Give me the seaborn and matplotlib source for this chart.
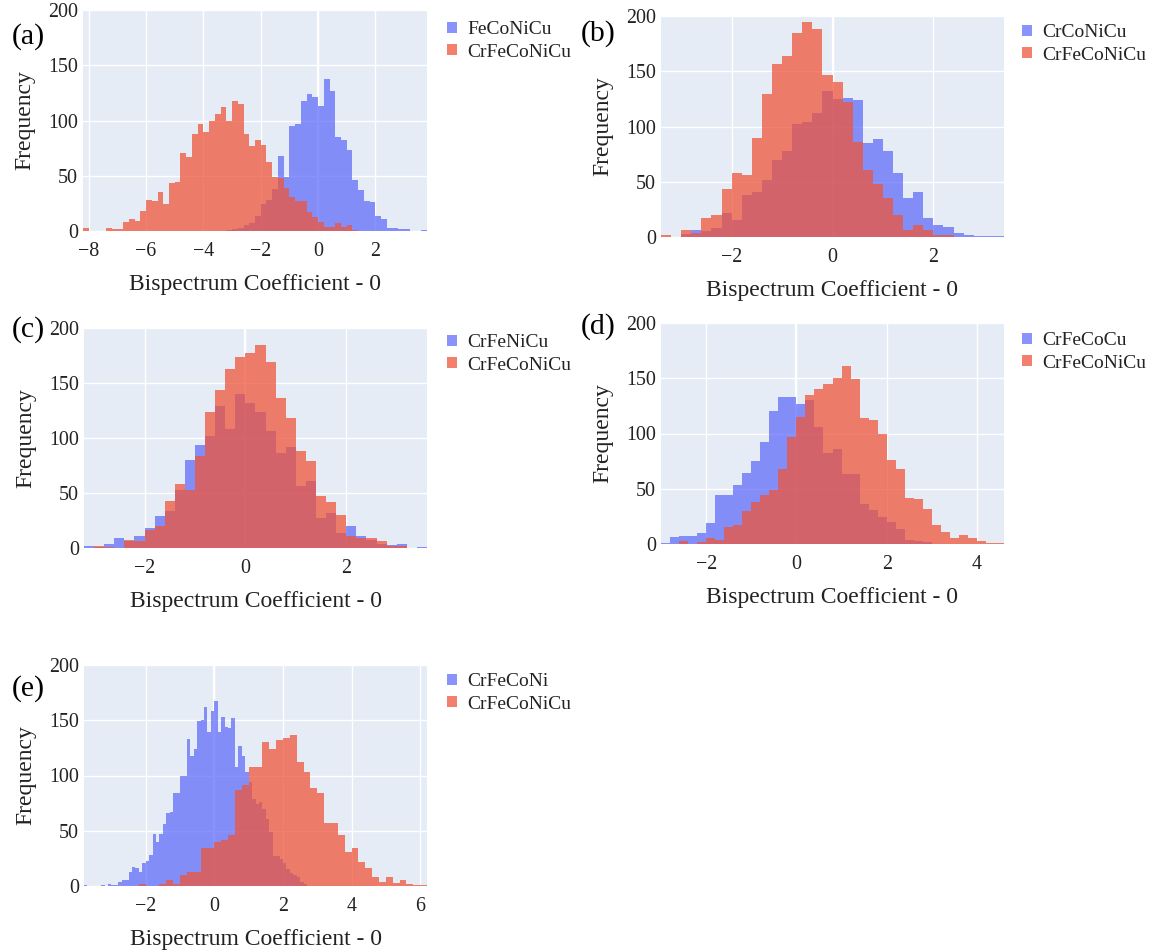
import numpy as np
import pandas as pd
import matplotlib
matplotlib.use("Agg")
import matplotlib.pyplot as plt
import seaborn as sns
from matplotlib.patches import Patch

# ---------------- data: histogram bin counts ----------------
# (a)
a_labels = ["FeCoNiCu", "CrFeCoNiCu"]
a_blue_start, a_blue_width = -3.2, 0.2
a_blue_counts = [1, 2, 3, 5, 7, 14, 24, 28, 38, 68, 49, 95, 97, 118, 124, 121, 113, 138, 127, 85,
                 82, 73, 46, 37, 27, 26, 14, 11, 3, 3, 2, 2, 0, 0, 1]
a_red_start, a_red_width = -8.2, 0.2
a_red_counts = [3, 0, 0, 0, 3, 2, 2, 8, 11, 9, 18, 28, 27, 35, 24, 43, 44, 71, 67, 88,
                97, 90, 100, 106, 112, 100, 118, 115, 88, 77, 82, 78, 62, 49, 48, 39, 31, 27, 27, 17,
                13, 8, 4, 4, 7, 4, 5, 1]
a_xticks = [-8, -6, -4, -2, 0, 2]

# (b)
b_labels = ["CrCoNiCu", "CrFeCoNiCu"]
b_blue_start, b_blue_width = -3.0, 0.2
b_blue_counts = [3, 6, 5, 8, 22, 15, 38, 41, 52, 70, 78, 102, 104, 112, 132, 125, 126, 124, 85, 89,
                 78, 58, 35, 41, 17, 11, 9, 4, 2, 1, 1, 1]
b_red_start, b_red_width = -3.4, 0.2
b_red_counts = [2, 0, 6, 4, 17, 20, 43, 58, 56, 90, 129, 157, 164, 185, 195, 188, 147, 140, 122, 86,
                61, 48, 35, 20, 6, 11, 6, 2, 2]
b_xticks = [-2, 0, 2]

# (c)
c_labels = ["CrFeNiCu", "CrFeCoNiCu"]
c_blue_start, c_blue_width = -3.2, 0.2
c_blue_counts = [2, 1, 4, 9, 6, 11, 18, 29, 34, 53, 80, 94, 102, 129, 108, 140, 132, 124, 106, 86,
                 92, 56, 61, 27, 32, 14, 20, 11, 7, 4, 3, 4, 0, 1]
c_red_start, c_red_width = -3.0, 0.2
c_red_counts = [2, 1, 0, 7, 6, 16, 20, 43, 58, 53, 84, 124, 144, 163, 174, 177, 185, 169, 136, 118,
                88, 79, 47, 42, 30, 11, 9, 9, 6, 2, 2]
c_xticks = [-2, 0, 2]

# (d)
d_labels = ["CrFeCoCu", "CrFeCoNiCu"]
d_blue_start, d_blue_width = -3.0, 0.2
d_blue_counts = [1, 6, 7, 7, 10, 19, 44, 44, 53, 64, 75, 92, 120, 133, 133, 127, 130, 106, 82, 86,
                 63, 63, 36, 31, 24, 20, 14, 4, 3, 2]
d_red_start, d_red_width = -2.6, 0.2
d_red_counts = [3, 0, 2, 5, 4, 15, 17, 30, 38, 44, 49, 68, 97, 115, 135, 140, 145, 150, 161, 149,
                114, 112, 100, 76, 68, 42, 41, 32, 17, 11, 5, 8, 5, 3, 1, 1]
d_xticks = [-2, 0, 2, 4]

# (e)
e_labels = ["CrFeCoNi", "CrFeCoNiCu"]
e_blue_start, e_blue_width = -3.8, 0.1
e_blue_counts = [1, 0, 0, 0, 0, 1, 0, 2, 1, 1,
                 4, 5, 5, 13, 17, 16, 13, 21, 23, 28,
                 47, 40, 47, 56, 66, 67, 84, 84, 100, 100,
                 133, 118, 124, 149, 150, 162, 139, 158,
                 167, 139, 153, 144, 143, 152, 108, 127, 118, 103,
                 94, 79, 74, 76, 70, 61, 49, 27, 27, 24,
                 21, 15, 12, 10, 8, 4, 2]
e_red_start, e_red_width = -2.2, 0.2
e_red_counts = [2, 0, 0, 2, 5, 2, 10, 13, 13, 34, 34, 40, 42, 46, 87, 91, 108, 108, 130, 124,
                132, 134, 137, 112, 103, 89, 84, 57, 57, 46, 31, 34, 22, 16, 8, 4, 8, 3, 5, 2,
                1, 1]
e_xticks = [-2, 0, 2, 4, 6]

y_ticks = [0, 50, 100, 150, 200]
x_title = "Bispectrum Coefficient - 0"
y_title = "Frequency"

# ---------------- style ----------------
BLUE = "#636EFA"
RED = "#EF553B"
BG = "#E5ECF6"
ALPHA = 0.75
TXT = "#222222"

sns.set_theme(style="darkgrid", rc={"axes.facecolor": BG, "grid.color": "white"})
plt.rcParams["font.family"] = ["Liberation Serif", "DejaVu Serif"]
plt.rcParams["axes.unicode_minus"] = True

W, H = 1156, 951
fig = plt.figure(figsize=(W / 100, H / 100), dpi=100)
fig.patch.set_facecolor("white")


def add_ax(l, t, r, b):
    return fig.add_axes([l / W, 1 - b / H, (r - l) / W, (b - t) / H])


def series_frame(start, width, counts):
    idx = np.arange(len(counts))
    edges = [float(e) for e in start + width * np.arange(len(counts) + 1)]
    return pd.DataFrame({"x": start + width * (idx + 0.5), "n": counts}), edges


panels = [
    dict(box=(83, 10, 427, 231), tag="(a)", tag_xy=(12, 37), leg_xy=(447, 21),
         blue=(a_blue_start, a_blue_width, a_blue_counts), red=(a_red_start, a_red_width, a_red_counts),
         labels=a_labels, xticks=a_xticks),
    dict(box=(661, 16, 1004, 237), tag="(b)", tag_xy=(581, 34), leg_xy=(1022, 24),
         blue=(b_blue_start, b_blue_width, b_blue_counts), red=(b_red_start, b_red_width, b_red_counts),
         labels=b_labels, xticks=b_xticks),
    dict(box=(84, 328, 427, 548), tag="(c)", tag_xy=(12, 330), leg_xy=(447, 334),
         blue=(c_blue_start, c_blue_width, c_blue_counts), red=(c_red_start, c_red_width, c_red_counts),
         labels=c_labels, xticks=c_xticks),
    dict(box=(661, 323, 1004, 544), tag="(d)", tag_xy=(581, 327), leg_xy=(1022, 332),
         blue=(d_blue_start, d_blue_width, d_blue_counts), red=(d_red_start, d_red_width, d_red_counts),
         labels=d_labels, xticks=d_xticks),
    dict(box=(84, 665, 427, 886), tag="(e)", tag_xy=(12, 689), leg_xy=(447, 673),
         blue=(e_blue_start, e_blue_width, e_blue_counts), red=(e_red_start, e_red_width, e_red_counts),
         labels=e_labels, xticks=e_xticks),
]

for p in panels:
    l, t, r, b = p["box"]
    ax = add_ax(l, t, r, b)
    ax.set_facecolor(BG)
    lo, hi = [], []
    for key, col in (("blue", BLUE), ("red", RED)):
        start, width, counts = p[key]
        df, edges = series_frame(start, width, counts)
        lo.append(edges[0]); hi.append(edges[-1])
        sns.histplot(data=df, x="x", weights="n", bins=edges, element="step", fill=True,
                     color=col, alpha=ALPHA, linewidth=0, edgecolor="none", ax=ax, zorder=2)
    ax.set_xlim(min(lo), max(hi))
    ax.set_ylim(0, 200)
    ax.set_yticks(y_ticks)
    ax.set_xticks(p["xticks"])
    ax.grid(True, color="white", linewidth=1.0)
    ax.set_axisbelow(True)
    ax.axvline(0, color="white", linewidth=1.6, zorder=1)
    for s in ax.spines.values():
        s.set_visible(False)
    ax.tick_params(axis="both", length=0, labelsize=14.4, colors=TXT)
    ax.tick_params(axis="x", pad=8)
    ax.tick_params(axis="y", pad=3.5)
    ax.set_xlabel(x_title, fontsize=17, color=TXT)
    ax.set_ylabel(y_title, fontsize=17, color=TXT)
    ax.xaxis.set_label_coords(0.5, -43.0 / (b - t))
    ax.yaxis.set_label_coords(-48.0 / (r - l), 0.5)

    handles = [Patch(facecolor=BLUE, alpha=ALPHA, edgecolor="none"),
               Patch(facecolor=RED, alpha=ALPHA, edgecolor="none")]
    lx, ly = p["leg_xy"]
    leg = ax.legend(handles=handles, labels=p["labels"], loc="upper left",
                    bbox_to_anchor=(lx / W, 1 - ly / H), bbox_transform=fig.transFigure,
                    frameon=False, fontsize=14, handlelength=0.5, handleheight=0.5,
                    handletextpad=0.55, labelspacing=0.3, borderpad=0, borderaxespad=0)
    for txt in leg.get_texts():
        txt.set_color(TXT)

    tx, ty = p["tag_xy"]
    fig.text(tx / W, 1 - ty / H, p["tag"], ha="left", va="center", fontsize=21.5, color="black")

fig.savefig("out.png", dpi=100, facecolor="white")
